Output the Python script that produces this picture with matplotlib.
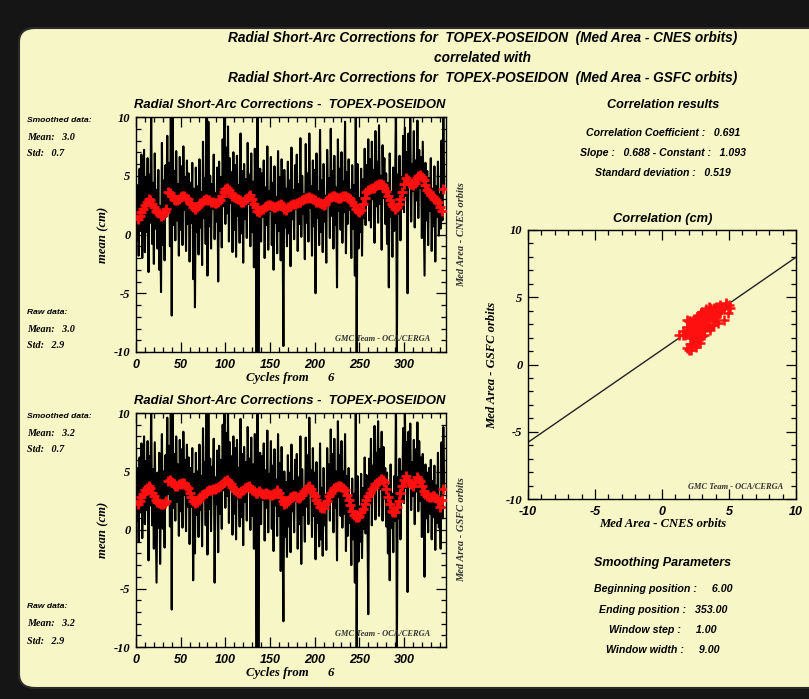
import matplotlib
matplotlib.use("Agg")
import matplotlib.pyplot as plt
from matplotlib.patches import FancyBboxPatch
from matplotlib.ticker import MultipleLocator
import numpy as np

plt.rcParams["axes.unicode_minus"] = False

# ---------------- data ----------------
raw_cnes = [
    3.5, -0.5, 4.2, -1.8, 5.6, 0.3, 6.8, -2.0, 3.1, 7.2,
    -1.5, 4.8, 0.2, 6.5, -3.2, 5.1, 1.0, 10.5, -0.8, 4.4,
    -2.5, 6.9, 0.5, 3.8, -1.2, 5.5, -3.0, 2.4, -4.9, 7.8,
    -0.9, 4.6, -2.2, 5.9, 1.5, 8.4, 2.0, 6.1, -1.0, 11.0,
    -6.9, 12.0, 0.8, 5.4, -0.5, 7.1, 1.2, 4.3, -1.8, 6.6,
    0.4, 5.8, -0.9, 7.5, 2.1, 4.9, -1.4, 6.3, 0.9, 5.2,
    -2.3, 4.4, 1.0, 6.1, -3.8, 3.9, -6.2, 5.7, 0.2, 4.1,
    -1.7, 6.4, 0.6, 3.6, -2.6, 7.9, 1.4, 4.8, -0.8, 10.8,
    -3.5, 9.6, 0.7, 5.0, -1.2, 4.3, 2.2, 6.8, -0.4, 3.5,
    1.1, 5.7, -4.0, 6.2, 0.3, 4.9, -1.1, 8.1, 2.4, 10.6,
    0.9, 7.4, 1.8, 9.2, -0.6, 6.5, 2.7, 5.3, -1.5, 7.0,
    0.4, 5.9, -1.9, 6.7, 1.6, 4.2, -0.7, 8.6, 0.1, 5.4,
    -2.4, 6.0, 1.3, 4.7, -0.3, 7.8, 2.6, 5.1, -1.0, 6.9,
    0.2, 4.5, -2.8, 7.3, 1.1, -11.5, 10.4, -11.0, 3.3, 5.6,
    -0.6, 5.2, 1.5, 6.3, -2.0, 4.0, 0.8, 7.5, -1.3, 3.7,
    2.0, 6.6, -0.9, 4.4, -3.0, 5.8, 1.0, 3.2, -1.6, 7.1,
    0.3, 4.9, -2.2, 6.4, 1.7, -9.5, 5.5, 0.6, 3.9, -1.0,
    6.2, 0.1, 4.6, -2.7, 7.4, 1.3, 3.8, -0.4, 5.9, 2.2,
    6.8, -1.4, 4.3, 0.9, 8.2, -0.2, 5.0, 1.8, 3.4, -2.1,
    7.7, 1.0, 5.2, -0.6, 8.6, 2.3, 4.1, -1.8, 6.3, 0.7,
    5.5, -5.0, 6.9, 1.4, 3.7, -0.9, 8.9, 0.2, 4.6, -1.5,
    6.0, 1.1, 3.3, -2.4, 7.2, 2.5, 4.8, -0.3, 9.0, 1.6,
    5.4, -1.2, 6.7, 0.8, 4.0, -4.5, 8.1, 2.0, 5.6, 0.4,
    7.0, -0.7, 4.5, 1.9, 9.6, -1.6, 5.3, 0.9, 6.4, 2.1,
    3.8, -2.0, 5.9, 0.5, 4.2, -3.5, 10.8, -10.5, 6.0, -1.2,
    3.1, 0.2, 5.6, -1.8, 4.7, 1.4, 7.3, 0.8, 5.9, 2.7,
    8.1, 1.2, 6.4, 0.6, 7.9, 3.0, 5.5, -0.7, 8.8, 2.4,
    6.2, 1.0, 9.3, 2.6, 5.0, -1.3, 7.6, 3.1, 6.5, 0.9,
    5.2, -0.8, 4.4, -4.5, 6.9, 1.5, 3.6, -1.9, 5.7, 0.3,
    4.0, 11.5, -10.5, 5.1, 1.8, 6.7, -0.5, 4.9, 2.2, 8.4,
    1.9, 9.1, 3.3, 7.0, -5.0, 8.6, 4.2, 10.2, 1.1, 6.0,
    3.7, 8.8, 0.6, 6.3, 2.9, 9.7, 1.4, 7.2, 4.0, 6.6,
    -0.3, 7.9, 2.5, -3.5, 6.1, 1.2, 5.4, -0.9, 4.8, 2.0,
    6.5, -1.4, 3.9, 0.7, 5.8, -2.3, 4.1, 1.5, 6.2, -0.1,
    3.4, 0.5, 8.0, 1.2, 10.5, 4.0,
]
raw_gsfc = [
    4.0, 0.8, 5.3, -1.0, 6.2, 1.5, 7.4, -0.7, 4.6, 8.0,
    0.5, 5.9, 1.7, 7.6, -2.6, 6.3, 2.1, 10.6, 0.4, 5.2,
    -1.6, 7.5, 1.3, -4.5, 4.9, 0.2, 6.6, -2.9, 3.5, 8.2,
    0.1, 5.0, -1.5, 6.4, 2.6, 9.6, 3.1, 7.2, 0.3, 11.5,
    -6.8, 12.0, 1.9, 6.5, 0.8, 8.0, 2.4, 5.6, -0.5, 7.7,
    1.6, 6.9, 0.2, 8.4, 3.0, 6.0, -0.1, 7.3, 2.0, 6.2,
    -1.2, 5.3, 2.0, 7.0, -4.3, 4.8, -2.0, 6.6, 1.3, 5.0,
    -0.6, 7.3, 1.7, 4.6, -1.4, 8.7, 2.5, 5.8, 0.4, 10.4,
    -2.1, 9.9, 1.8, 6.1, -0.1, 5.4, 3.3, 7.8, -4.5, 4.5,
    2.2, 6.8, -1.9, 7.2, 1.4, 6.0, 0.1, 9.0, 3.4, 10.8,
    1.9, 8.3, 2.9, 10.0, 0.6, 7.5, 3.8, 6.3, -0.4, 8.0,
    1.4, 7.0, -0.8, 7.7, 2.7, 5.3, 0.3, 9.5, 1.1, 6.5,
    -1.3, 7.1, 2.4, 5.8, 0.8, 8.8, 3.6, 6.1, 0.0, 7.9,
    1.2, 5.6, -1.6, 8.2, 2.3, -11.5, 10.3, -11.0, 4.3, 6.6,
    0.5, 6.3, 2.6, 7.4, -0.9, 5.1, 1.9, 8.5, -0.2, 4.8,
    3.0, 7.6, 0.1, 5.5, -1.8, 6.9, 2.1, 4.3, -0.5, 8.2,
    1.2, 5.7, -3.5, 7.1, 0.6, -7.8, 5.0, -0.6, 4.1, -2.3,
    6.4, 0.3, 4.9, -1.9, 7.3, 1.6, 4.2, -0.2, 6.0, 2.5,
    6.5, -1.6, 4.5, 0.5, 8.0, -2.9, 5.2, 1.3, 3.3, -1.0,
    7.9, 2.0, 6.4, 0.5, 9.6, 3.2, 5.1, -0.6, 7.0, 1.2,
    4.9, -2.5, 5.8, 0.6, 2.9, -1.4, 7.4, -0.8, 3.6, -2.2,
    5.3, 0.4, 3.0, -1.7, 7.0, 2.3, 5.6, 0.8, 8.6, 2.4,
    6.5, -0.2, 7.8, 1.9, 5.0, -2.6, 9.3, 2.8, 6.4, 1.2,
    7.6, 0.2, 5.0, 1.4, 8.2, -1.8, 4.6, -0.5, 5.3, 0.6,
    2.6, -3.0, 4.4, -0.8, 3.1, -4.5, 10.9, -10.5, 4.6, -2.7,
    2.0, -1.0, 4.8, -2.4, 3.6, 0.1, 6.2, -0.3, 4.7, 1.6,
    -7.2, 6.1, 2.3, 7.8, 0.4, 5.5, 3.2, 8.9, 0.9, 6.6,
    4.1, 9.3, 1.2, 6.9, 3.5, 8.4, 0.8, 7.1, 2.7, 5.3,
    0.3, 4.9, -2.0, 3.8, -4.3, 5.6, 0.2, 3.1, -1.9, 4.6,
    0.8, 11.5, -10.5, 4.5, 1.0, 6.1, -0.8, 5.0, 2.4, 8.7,
    2.3, 10.2, 3.6, 7.5, -5.3, 8.4, 3.8, 9.1, 1.7, 5.8,
    2.9, 7.7, 0.5, 6.9, 3.3, 9.2, 1.6, 7.6, 2.5, 6.2,
    -0.6, 6.5, 1.8, -4.0, 5.6, 1.0, 4.9, -0.2, 5.3, 1.4,
    6.0, -0.8, 4.2, 1.1, 5.5, -1.7, 3.8, 0.6, 6.6, 0.2,
    2.8, -1.6, 7.5, 1.0, 8.8, 3.6,
]
raw_cycles = list(range(len(raw_cnes)))

smooth_cycles = list(range(2, 345, 2))
smooth_cnes = [
    1.3, 1.6, 1.9, 2.2, 2.5, 2.8, 3.0, 2.9, 2.6, 2.3,
    2.0, 1.9, 1.8, 1.6, 1.7, 1.9, 2.2, 3.6, 3.5, 3.3,
    3.0, 2.9, 2.9, 3.0, 3.2, 3.3, 3.3, 3.1, 3.0, 2.7,
    2.6, 2.3, 2.2, 2.3, 2.5, 2.7, 2.8, 2.9, 3.0, 2.9,
    2.9, 2.8, 2.8, 2.7, 2.7, 2.8, 2.9, 3.3, 3.6, 3.9,
    4.0, 3.8, 3.5, 3.3, 3.2, 3.1, 3.0, 2.9, 2.8, 2.8,
    2.9, 3.1, 3.3, 3.4, 3.0, 2.6, 2.3, 2.0, 1.9, 2.1,
    2.2, 2.3, 2.4, 2.5, 2.5, 2.4, 2.3, 2.3, 2.4, 2.5,
    2.6, 2.4, 2.2, 2.1, 2.3, 2.4, 2.5, 2.6, 2.6, 2.7,
    2.8, 2.8, 2.9, 3.0, 3.1, 3.1, 3.2, 3.1, 3.0, 2.9,
    2.8, 2.8, 2.7, 2.6, 2.5, 2.6, 2.9, 3.1, 3.2, 3.3,
    3.3, 3.2, 3.1, 3.1, 3.2, 3.3, 3.3, 3.2, 3.1, 3.0,
    2.8, 2.5, 2.2, 2.0, 1.9, 2.1, 2.6, 3.1, 3.6, 3.8,
    3.9, 4.0, 4.0, 4.1, 4.2, 4.3, 4.3, 4.2, 4.0, 3.7,
    3.3, 2.9, 2.6, 2.4, 2.2, 2.3, 2.6, 3.0, 3.6, 4.3,
    4.8, 4.6, 4.4, 4.3, 4.2, 4.4, 4.8, 5.0, 5.1, 4.9,
    4.6, 4.2, 3.8, 3.6, 3.4, 3.2, 3.0, 2.9, 2.8, 2.3,
    2.0, 3.9,
]
smooth_gsfc = [
    2.2, 2.5, 2.8, 3.1, 3.4, 3.6, 3.8, 3.6, 3.2, 2.9,
    2.6, 2.4, 2.3, 2.2, 2.2, 2.3, 2.5, 4.2, 4.3, 4.1,
    3.9, 3.8, 3.8, 3.9, 3.9, 4.0, 4.0, 3.8, 3.6, 3.2,
    2.8, 2.5, 2.3, 2.4, 2.6, 2.8, 3.0, 3.1, 3.2, 3.3,
    3.4, 3.4, 3.5, 3.5, 3.6, 3.7, 3.8, 3.9, 4.1, 4.2,
    4.3, 4.1, 3.9, 3.7, 3.5, 3.3, 3.2, 3.2, 3.3, 3.4,
    3.6, 3.7, 3.8, 3.6, 3.4, 3.3, 3.2, 3.2, 3.3, 3.2,
    3.1, 3.1, 3.2, 3.1, 3.0, 3.0, 3.1, 3.2, 3.4, 3.2,
    2.8, 2.5, 2.2, 2.3, 2.5, 2.7, 2.8, 2.9, 2.9, 2.8,
    2.7, 2.8, 3.0, 3.3, 3.5, 3.7, 3.8, 3.5, 3.2, 2.9,
    2.6, 2.3, 2.0, 1.9, 1.9, 2.2, 2.5, 2.9, 3.2, 3.4,
    3.6, 3.7, 3.8, 3.8, 3.7, 3.6, 3.4, 3.0, 2.6, 2.1,
    1.6, 1.3, 1.1, 1.1, 1.2, 1.5, 1.8, 2.2, 2.6, 2.9,
    3.2, 3.5, 3.7, 3.9, 4.0, 4.2, 4.4, 4.3, 4.1, 3.5,
    2.8, 2.2, 1.6, 1.5, 1.5, 2.0, 2.5, 3.2, 3.8, 4.3,
    4.6, 4.3, 4.1, 3.9, 3.8, 4.1, 4.5, 4.4, 4.2, 3.8,
    3.3, 3.1, 2.9, 2.8, 2.8, 2.9, 2.9, 2.7, 2.5, 2.0,
    2.6, 3.5,
]

fit_slope = 0.688
fit_const = 1.093
fit_x = [-10, 10]

y_ticks = [-10, -5, 0, 5, 10]
x_ticks_ts = [0, 50, 100, 150, 200, 250, 300]
x_ticks_sc = [-10, -5, 0, 5, 10]

# ---------------- figure ----------------
W, H = 809, 699
DPI = 100
fig = plt.figure(figsize=(W / DPI, H / DPI), dpi=DPI)
fig.patch.set_facecolor("#151515")

PANEL = "#f6f6c7"
panel = FancyBboxPatch((19 / W, 11 / H), (W + 30) / W, (H - 39) / H,
                       boxstyle="round,pad=0,rounding_size=0.02",
                       transform=fig.transFigure, facecolor=PANEL,
                       edgecolor="#2a2a2a", linewidth=1.5, zorder=-5)
fig.patches.append(panel)

SANS = ["Liberation Sans Narrow", "Liberation Sans", "DejaVu Sans"]
SERIF = ["Liberation Serif", "DejaVu Serif"]
RED = "#ff1010"


def px(x, y):
    return x / W, 1 - y / H


def ftext(x, y, s, size, fam=SANS, ha="center", va="center", **kw):
    fig.text(*px(x, y), s, fontsize=size, family=fam, fontweight="bold",
             fontstyle="italic", ha=ha, va=va, **kw)


def ax_rect(l, t, r, b):
    return [l / W, 1 - b / H, (r - l) / W, (b - t) / H]


def style_axes(ax, xmaj, xmin, ymaj, ymin):
    ax.set_facecolor("none")
    ax.xaxis.set_major_locator(MultipleLocator(xmaj))
    ax.xaxis.set_minor_locator(MultipleLocator(xmin))
    ax.yaxis.set_major_locator(MultipleLocator(ymaj))
    ax.yaxis.set_minor_locator(MultipleLocator(ymin))
    ax.tick_params(which="both", direction="in", top=True, right=True,
                   colors="black", width=0.9)
    ax.tick_params(which="major", length=7)
    ax.tick_params(which="minor", length=3.5)
    ax.tick_params(axis="x", pad=5)
    ax.tick_params(axis="y", pad=4)
    for s in ax.spines.values():
        s.set_linewidth(1.0)


def font_ticks(ax):
    for lab in ax.get_xticklabels():
        lab.set_family(SANS)
        lab.set_fontweight("bold")
        lab.set_fontstyle("italic")
        lab.set_fontsize(9)
    for lab in ax.get_yticklabels():
        lab.set_family(SERIF)
        lab.set_fontweight("bold")
        lab.set_fontstyle("italic")
        lab.set_fontsize(9)


# titles
ftext(483, 38, "Radial Short-Arc Corrections for  TOPEX-POSEIDON  (Med Area - CNES orbits)", 9.8)
ftext(483, 58, "correlated with", 9.8)
ftext(483, 78, "Radial Short-Arc Corrections for  TOPEX-POSEIDON  (Med Area - GSFC orbits)", 9.8)


def series_panel(top, bottom, raw, smooth, right_label, sm_stats, raw_stats):
    ax = fig.add_axes(ax_rect(136, top, 446, bottom))
    ax.plot(raw_cycles, raw, color="black", lw=1.5, zorder=2)
    ax.plot(smooth_cycles, smooth, linestyle="none", marker="+",
            color=RED, markersize=7.5, mew=2.0, zorder=3)
    ax.set_xlim(0, 347)
    ax.set_ylim(-10, 10)
    style_axes(ax, 50, 10, 5, 1)
    ax.set_xticks(x_ticks_ts)
    ax.set_yticks(y_ticks)
    font_ticks(ax)
    ftext(290, top - 12, "Radial Short-Arc Corrections -  TOPEX-POSEIDON", 9.4)
    ftext(103, (top + bottom) / 2, "mean (cm)", 9.2, fam=SERIF, rotation=90)
    ftext(277, bottom + 26, "Cycles from", 9.2, fam=SERIF)
    ftext(331, bottom + 26, "6", 9.2, fam=SERIF)
    ftext(462, (top + bottom) / 2, right_label, 7.5, fam=SERIF, rotation=90,
          color="#333333")
    ftext(383, bottom - 13, "GMC Team - OCA/CERGA", 6, fam=SERIF, color="#333333")
    # stats
    ftext(27, top + 3, "Smoothed data:", 6.1, ha="left")
    ftext(27, top + 20, "Mean:   %s" % sm_stats[0], 7.3, fam=SERIF, ha="left")
    ftext(27, top + 37, "Std:   %s" % sm_stats[1], 7.3, fam=SERIF, ha="left")
    ftext(27, bottom - 40, "Raw data:", 6.1, ha="left")
    ftext(27, bottom - 23, "Mean:   %s" % raw_stats[0], 7.3, fam=SERIF, ha="left")
    ftext(27, bottom - 6, "Std:   %s" % raw_stats[1], 7.3, fam=SERIF, ha="left")
    return ax


series_panel(117, 352, raw_cnes, smooth_cnes, "Med Area - CNES orbits",
             ("3.0", "0.7"), ("3.0", "2.9"))
series_panel(413, 647, raw_gsfc, smooth_gsfc, "Med Area - GSFC orbits",
             ("3.2", "0.7"), ("3.2", "2.9"))

# correlation results
ftext(663, 105, "Correlation results", 9.1)
ftext(663, 133, "Correlation Coefficient :   0.691", 7.6)
ftext(663, 153, "Slope :   0.688 - Constant :   1.093", 7.6)
ftext(663, 173, "Standard deviation :   0.519", 7.6)

# scatter
axs = fig.add_axes(ax_rect(528, 230, 796, 499))
fy = [fit_slope * v + fit_const for v in fit_x]
axs.plot(fit_x, fy, color="#222222", lw=1.0, zorder=2)
axs.plot(smooth_cnes, smooth_gsfc, linestyle="none", marker="+",
         color=RED, markersize=6.5, mew=1.8, zorder=3)
axs.set_xlim(-10, 10)
axs.set_ylim(-10, 10)
style_axes(axs, 5, 1, 5, 1)
axs.set_xticks(x_ticks_sc)
axs.set_yticks(y_ticks)
font_ticks(axs)
ftext(663, 219, "Correlation (cm)", 9.3)
ftext(663, 524, "Med Area - CNES orbits", 9.1, fam=SERIF)
ftext(492, 365, "Med Area - GSFC orbits", 9.1, fam=SERIF, rotation=90)
ftext(736, 487, "GMC Team - OCA/CERGA", 6, fam=SERIF, color="#333333")

# smoothing parameters
ftext(663, 563, "Smoothing Parameters", 9.0)
ftext(663, 589, "Beginning position :     6.00", 7.7)
ftext(663, 610, "Ending position :   353.00", 7.7)
ftext(663, 630, "Window step :     1.00", 7.7)
ftext(663, 650, "Window width :     9.00", 7.7)

fig.savefig("out.png", dpi=DPI, facecolor=fig.get_facecolor())
